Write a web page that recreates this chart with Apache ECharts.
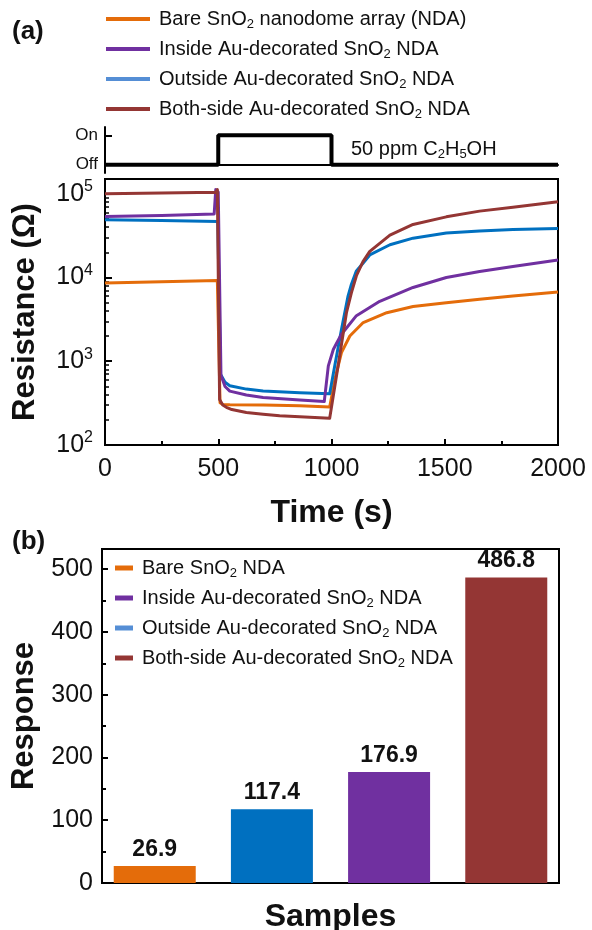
<!DOCTYPE html>
<html>
<head>
<meta charset="utf-8">
<script src="https://cdn.jsdelivr.net/npm/echarts@6/dist/echarts.min.js"></script>
<style>
html, body { margin: 0; padding: 0; background: #fff; }
#chart { width: 592px; height: 930px; }
</style>
</head>
<body>
<div id="chart"></div>
<script>
// (a) resistance transients, [time s, resistance ohm]
var bareCurve = [[0, 8600], [250, 8900], [496, 9200], [508, 320], [520, 305], [551, 303], [700, 300], [860, 295], [992, 285],
  [1015, 610], [1044, 1270], [1081, 2000], [1140, 2900], [1244, 3800], [1360, 4500], [1507, 5000], [1654, 5500], [1801, 6000], [2000, 6700]];
var outsideCurve = [[0, 49000], [250, 48000], [498, 46700], [510, 700], [530, 560], [551, 510], [624, 465], [698, 440], [860, 420], [992, 410],
  [1015, 900], [1044, 2400], [1073, 6000], [1088, 8300], [1110, 12000], [1139, 14800], [1169, 18600], [1258, 24600], [1360, 29500], [1507, 34000], [1654, 36000], [1801, 37500], [2000, 38500]];
var insideCurve = [[0, 53500], [250, 55000], [482, 57500], [489, 112000], [500, 105000], [512, 680], [530, 500], [551, 440], [624, 395], [698, 370], [860, 345], [968, 330],
  [986, 880], [1008, 1380], [1023, 1650], [1044, 2100], [1110, 3500], [1213, 5200], [1360, 7600], [1507, 10000], [1654, 11800], [1801, 13500], [2000, 16200]];
var bothCurve = [[0, 100000], [250, 102000], [490, 104000], [496, 112000], [506, 350], [520, 300], [536, 282], [560, 265], [624, 245], [698, 233], [771, 223], [860, 217], [992, 209],
  [1029, 875], [1066, 3800], [1088, 6600], [1110, 10500], [1139, 15500], [1169, 20500], [1258, 32000], [1360, 43000], [1507, 53000], [1654, 62000], [1801, 69000], [2000, 80000]];

var curveNames = ['Bare SnO2 nanodome array (NDA)', 'Inside Au-decorated SnO2 NDA', 'Outside Au-decorated SnO2 NDA', 'Both-side Au-decorated SnO2 NDA'];

// gas pulse
var pulseTime = [0, 500, 500, 1000, 1000, 2000];
var pulseState = [0, 0, 1, 1, 0, 0];

// (b) response
var sampleNames = ['Bare SnO2 NDA', 'Outside Au-decorated SnO2 NDA', 'Inside Au-decorated SnO2 NDA', 'Both-side Au-decorated SnO2 NDA'];
var samplePos = [1, 2, 3, 4];
var responses = [26.9, 117.4, 176.9, 486.8];
var legendOrderB = ['Bare SnO2 NDA', 'Inside Au-decorated SnO2 NDA', 'Outside Au-decorated SnO2 NDA', 'Both-side Au-decorated SnO2 NDA'];

var logMajor = [100, 1000, 10000, 100000];
var logMinor = [200, 300, 400, 500, 600, 700, 800, 900, 2000, 3000, 4000, 5000, 6000, 7000, 8000, 9000,
  20000, 30000, 40000, 50000, 60000, 70000, 80000, 90000];

var ORANGE = '#E46C0A', PURPLE = '#7030A0', BLUE = '#0070C0', BROWN = '#943634', LIGHTBLUE = '#558ED5';
var FONT = 'Liberation Sans';

function subText(name) {
	return name.replace(/SnO2/g, 'SnO{sub|2}');
}

var legendText = {
	fontFamily: FONT, fontSize: 20, color: '#111', lineHeight: 24, padding: [0, 0, 0, 4],
	rich: { sub: { fontFamily: FONT, fontSize: 13, color: '#111', verticalAlign: 'bottom', lineHeight: 13 } }
};

var chart = echarts.init(document.getElementById('chart'));

var pulseData = pulseTime.map(function (t, i) { return [t, pulseState[i]]; });

var curveSeries = [
	{ name: curveNames[0], data: bareCurve, color: ORANGE },
	{ name: curveNames[2], data: outsideCurve, color: BLUE },
	{ name: curveNames[1], data: insideCurve, color: PURPLE },
	{ name: curveNames[3], data: bothCurve, color: BROWN }
].map(function (s) {
	return {
		name: s.name, type: 'line', xAxisIndex: 1, yAxisIndex: 1, data: s.data,
		showSymbol: false, symbol: 'none', smooth: false,
		lineStyle: { color: s.color, width: 3, join: 'round' }, itemStyle: { color: s.color }
	};
});

var barColors = [ORANGE, BLUE, PURPLE, BROWN];
var barSeries = sampleNames.map(function (n, i) {
	return {
		name: n, type: 'bar', xAxisIndex: 2, yAxisIndex: 3, barWidth: 82, barGap: '-100%',
		data: [[samplePos[i], responses[i]]],
		itemStyle: { color: barColors[i] },
		label: {
			show: true, position: 'top', distance: 5, color: '#111',
			fontFamily: FONT, fontSize: 23, fontWeight: 'bold',
			formatter: function (p) { return p.value[1].toFixed(1); }
		}
	};
});

var option = {
	animation: false,
	textStyle: { fontFamily: FONT },
	graphic: [
		{ type: 'text', left: 12, top: 19, style: { text: '(a)', fontFamily: FONT, fontSize: 26, fontWeight: 'bold', fill: '#111' } },
		{ type: 'text', left: 12, top: 529, style: { text: '(b)', fontFamily: FONT, fontSize: 26, fontWeight: 'bold', fill: '#111' } },
		{ type: 'text', left: 351, top: 137, style: {
			text: '50 ppm C{sub|2}H{sub|5}OH', fontFamily: FONT, fontSize: 20, lineHeight: 24, fill: '#111',
			rich: { sub: { fontFamily: FONT, fontSize: 13, verticalAlign: 'bottom', lineHeight: 13, fill: '#111' } }
		} }
	],
	legend: [{
		data: curveNames.map(function (n, i) { return { name: n, itemStyle: { color: [ORANGE, PURPLE, LIGHTBLUE, BROWN][i] } }; }),
		orient: 'vertical', left: 106, top: 7, padding: 0, icon: 'rect', itemWidth: 44, itemHeight: 4, itemGap: 6,
		selectedMode: false, formatter: subText, textStyle: legendText
	}, {
		data: legendOrderB.map(function (n, i) { return { name: n, itemStyle: { color: [ORANGE, PURPLE, LIGHTBLUE, BROWN][i] } }; }),
		orient: 'vertical', left: 115, top: 556, padding: 0, icon: 'rect', itemWidth: 18, itemHeight: 5, itemGap: 6,
		selectedMode: false, formatter: subText, textStyle: legendText
	}],
	grid: [
		{ left: 105, right: 34, top: 127, height: 46, outerBoundsMode: 'none' },
		{ left: 105, right: 34, top: 179, height: 266, show: true, borderColor: '#000', borderWidth: 2, outerBoundsMode: 'none' },
		{ left: 102, right: 33, top: 549, height: 334, show: true, borderColor: '#000', borderWidth: 2, outerBoundsMode: 'none' }
	],
	xAxis: [{
		gridIndex: 0, type: 'value', min: 0, max: 2000,
		axisLine: { show: true, lineStyle: { color: '#000', width: 2 } },
		axisTick: { show: false }, axisLabel: { show: false }, splitLine: { show: false }
	}, {
		gridIndex: 1, type: 'value', min: 0, max: 2000, interval: 500,
		axisLine: { show: true, lineStyle: { color: '#000', width: 2 } },
		axisTick: { show: true, inside: true, length: 6, lineStyle: { color: '#000', width: 2 } },
		minorTick: { show: true, splitNumber: 2, length: 4, lineStyle: { color: '#000', width: 2 } },
		axisLabel: { color: '#111', fontSize: 25, margin: 12, formatter: function (v) { return String(v); } },
		splitLine: { show: false },
		name: 'Time (s)', nameLocation: 'middle', nameGap: 52,
		nameTextStyle: { color: '#111', fontSize: 32, fontWeight: 'bold' }
	}, {
		gridIndex: 2, type: 'value', min: 0.55, max: 4.45,
		axisLine: { show: true, lineStyle: { color: '#000', width: 2 } },
		axisTick: { show: false }, axisLabel: { show: false }, splitLine: { show: false },
		name: 'Samples', nameLocation: 'middle', nameGap: 18,
		nameTextStyle: { color: '#111', fontSize: 32, fontWeight: 'bold' }
	}],
	yAxis: [{
		gridIndex: 0, type: 'value', min: -0.28, max: 1.28,
		axisLine: { show: true, lineStyle: { color: '#000', width: 2 } },
		axisTick: { show: true, inside: true, length: 7, customValues: [0, 1], lineStyle: { color: '#000', width: 2 } },
		axisLabel: { customValues: [0, 1], color: '#111', fontSize: 17, margin: 7,
			formatter: function (v) { return v > 0.5 ? 'On' : 'Off'; } },
		splitLine: { show: false }
	}, {
		gridIndex: 1, type: 'log', logBase: 10, min: 100, max: 150000,
		axisLine: { show: true, lineStyle: { color: '#000', width: 2 } },
		axisTick: { show: true, inside: true, length: 7, customValues: logMajor, lineStyle: { color: '#000', width: 2 } },
		axisLabel: {
			customValues: logMajor, margin: 12, color: '#111',
			formatter: function (v) { return '{b|10}{s|' + Math.round(Math.log10(v)) + '}'; },
			rich: {
				b: { fontFamily: FONT, fontSize: 25, color: '#111', lineHeight: 30 },
				s: { fontFamily: FONT, fontSize: 16, color: '#111', verticalAlign: 'top', lineHeight: 16 }
			}
		},
		splitLine: { show: false },
		name: 'Resistance (Ω)', nameLocation: 'middle', nameGap: 64, nameRotate: 90,
		nameTextStyle: { color: '#111', fontSize: 31, fontWeight: 'bold' }
	}, {
		gridIndex: 1, type: 'log', logBase: 10, min: 100, max: 150000, position: 'left',
		axisLine: { show: false },
		axisTick: { show: true, inside: true, length: 4, customValues: logMinor, lineStyle: { color: '#000', width: 1.5 } },
		axisLabel: { show: false }, splitLine: { show: false }
	}, {
		gridIndex: 2, type: 'value', min: 0, max: 532, interval: 100,
		axisLine: { show: true, lineStyle: { color: '#000', width: 2 } },
		axisTick: { show: true, inside: true, length: 6, lineStyle: { color: '#000', width: 2 } },
		minorTick: { show: true, splitNumber: 2, length: 4, lineStyle: { color: '#000', width: 2 } },
		axisLabel: { color: '#111', fontSize: 25, margin: 9, showMaxLabel: false },
		splitLine: { show: false },
		name: 'Response', nameLocation: 'middle', nameGap: 60, nameRotate: 90,
		nameTextStyle: { color: '#111', fontSize: 31, fontWeight: 'bold' }
	}],
	series: [{
		name: 'pulse', type: 'line', xAxisIndex: 0, yAxisIndex: 0, data: pulseData,
		showSymbol: false, symbol: 'none', lineStyle: { color: '#000', width: 4 }
	}].concat(curveSeries).concat(barSeries)
};

chart.setOption(option);
</script>
</body>
</html>
